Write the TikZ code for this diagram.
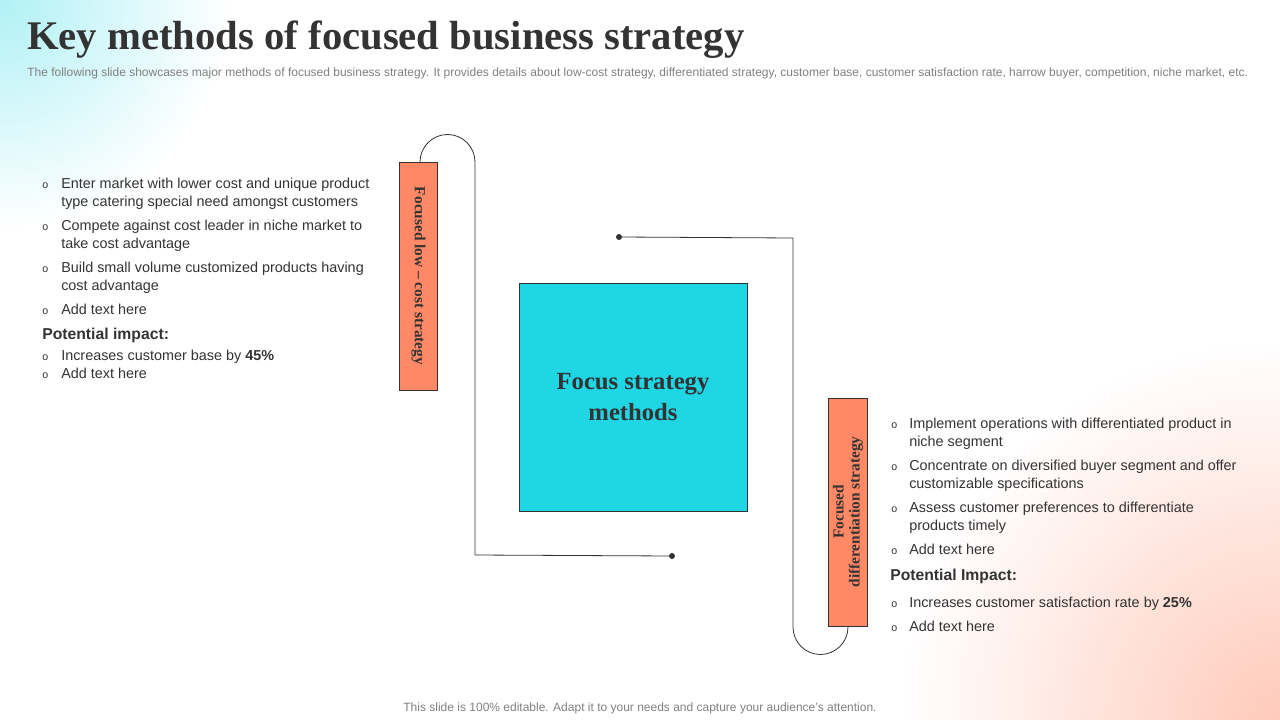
\documentclass[tikz,border=0pt]{standalone}
\usepackage{fontspec}
\setmainfont{Liberation Sans}
\newfontfamily\serifbf{Liberation Serif}
\definecolor{coral}{HTML}{FF8866}
\definecolor{aqua}{HTML}{1ED6E4}
\definecolor{ink}{HTML}{333333}
\newcommand{\bodyfont}{\fontsize{10.8}{13.5}\selectfont}
\begin{document}
\begin{tikzpicture}[x=0.75pt,y=-0.75pt]
\tikzstyle{item}=[anchor=north west,align=left,inner sep=0pt,text=ink,font=\bodyfont]
\tikzstyle{dotmark}=[anchor=north west,inner sep=0pt,text=ink,font=\fontsize{8}{9}\selectfont]
\tikzstyle{stratbox}=[draw=ink,fill=coral,line width=0.6pt]
\useasboundingbox (0,0) rectangle (1280,720);
% soft corners
\shade[inner color=aqua!35,outer color=white] (0,0) circle (230);
\shade[inner color=coral!45,outer color=white] (1280,720) circle (380);
% title
\node[anchor=west,inner sep=0pt,font=\serifbf\bfseries\fontsize{30.5}{33}\selectfont,text=ink](title) at (27,40) {Key methods of focused business strategy};
\node[anchor=west,inner sep=0pt,font=\fontsize{9}{10}\selectfont,text=gray](sub) at (27,73) {The following slide showcases major methods of focused business strategy. It provides details about low-cost strategy, differentiated strategy, customer base, customer satisfaction rate, harrow buyer, competition, niche market, etc.};
% centre
\node[draw=ink,fill=aqua,minimum width=171pt,minimum height=171pt,align=center,font=\serifbf\bfseries\fontsize{18.5}{23}\selectfont,text=ink](focus) at (633,397) {Focus strategy\\methods};
% strategy boxes
\node[stratbox,minimum width=29pt,minimum height=171pt](low) at (418.5,276) {};
\node[rotate=-90,font=\serifbf\bfseries\fontsize{11.5}{12}\selectfont,text=ink](lowtxt) at (low.center) {Focused low – cost strategy};
\node[stratbox,minimum width=29pt,minimum height=171pt](diff) at (848,512) {};
\node[rotate=90,align=center,font=\serifbf\bfseries\fontsize{11.5}{12}\selectfont,text=ink](difftxt) at (diff.center) {Focused\\differentiation strategy};
% connectors
\coordinate (lowend) at (672,556);
\coordinate (diffend) at (619,237);
\draw[ink,line width=0.6pt] (420,162) arc(180:360:27.5) -- (475,555) -- (lowend);
\fill[ink] (lowend) circle (3);
\draw[ink,line width=0.6pt] (diffend) -- (793,238) -- (793,627) arc(180:0:27.5);
\fill[ink] (diffend) circle (3);
% left list
\node[dotmark](l1o) at (42,182) {o};
\node[item](l1) at (61,178) {Enter market with lower cost and unique product\\type catering special need amongst customers};
\node[dotmark](l2o) at (42,224) {o};
\node[item](l2) at (61,220) {Compete against cost leader in niche market to\\take cost advantage};
\node[dotmark](l3o) at (42,266) {o};
\node[item](l3) at (61,262) {Build small volume customized products having\\cost advantage};
\node[dotmark](l4o) at (42,308) {o};
\node[item](l4) at (61,304) {Add text here};
\node[item,font=\fontsize{11.8}{13.5}\selectfont\bfseries](limp) at (42,328) {Potential impact:};
\node[dotmark](l5o) at (42,354) {o};
\node[item](l5) at (61,350) {Increases customer base by \textbf{45\%}};
\node[dotmark](l6o) at (42,372) {o};
\node[item](l6) at (61,368) {Add text here};
% right list
\node[dotmark](r1o) at (891,422) {o};
\node[item](r1) at (909,418) {Implement operations with differentiated product in\\niche segment};
\node[dotmark](r2o) at (891,464) {o};
\node[item](r2) at (909,460) {Concentrate on diversified buyer segment and offer\\customizable specifications};
\node[dotmark](r3o) at (891,506) {o};
\node[item](r3) at (909,502) {Assess customer preferences to differentiate\\products timely};
\node[dotmark](r4o) at (891,548) {o};
\node[item](r4) at (909,544) {Add text here};
\node[item,font=\fontsize{11.8}{13.5}\selectfont\bfseries](rimp) at (890,569) {Potential Impact:};
\node[dotmark](r5o) at (891,601) {o};
\node[item](r5) at (909,597) {Increases customer satisfaction rate by \textbf{25\%}};
\node[dotmark](r6o) at (891,625) {o};
\node[item](r6) at (909,621) {Add text here};
% footer
\node[font=\fontsize{9}{10}\selectfont,text=gray](foot) at (640,708) {This slide is 100\% editable. Adapt it to your needs and capture your audience's attention.};
\end{tikzpicture}
\end{document}
